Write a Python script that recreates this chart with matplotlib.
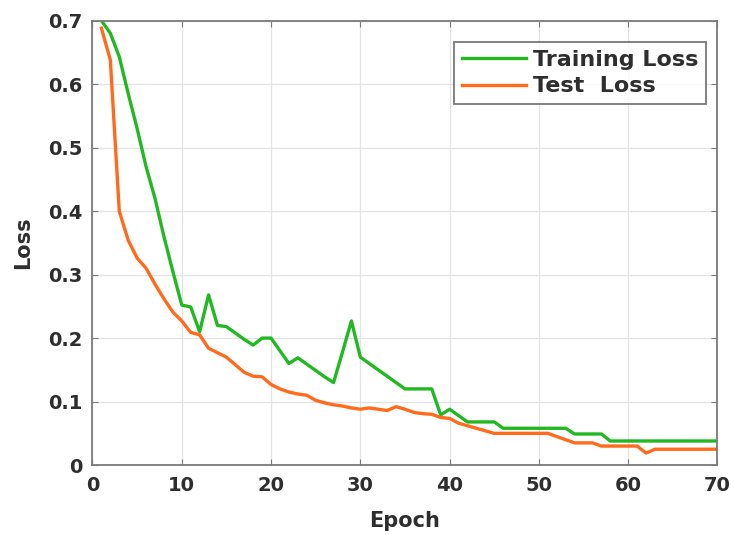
import numpy as np
import matplotlib
matplotlib.use("Agg")
import matplotlib.pyplot as plt

plt.rcParams['font.family'] = ['DejaVu Sans']
plt.rcParams['font.weight'] = 'bold'

epochs = list(range(1, 71))

train_loss = [0.700, 0.680, 0.643, 0.585, 0.530, 0.470, 0.420, 0.360, 0.305, 0.252,
              0.249, 0.210, 0.268, 0.220, 0.218, 0.208, 0.198, 0.189, 0.200, 0.200,
              0.180, 0.160, 0.169, 0.159, 0.149, 0.139, 0.130, 0.178, 0.227, 0.170,
              0.160, 0.150, 0.140, 0.130, 0.120, 0.120, 0.120, 0.120, 0.079, 0.088,
              0.078, 0.068, 0.068, 0.068, 0.068, 0.058, 0.058, 0.058, 0.058, 0.058,
              0.058, 0.058, 0.058, 0.049, 0.049, 0.049, 0.049, 0.038, 0.038, 0.038,
              0.038, 0.038, 0.038, 0.038, 0.038, 0.038, 0.038, 0.038, 0.038, 0.038]

test_loss = [0.688, 0.638, 0.400, 0.354, 0.326, 0.310, 0.285, 0.262, 0.241, 0.227,
             0.209, 0.205, 0.184, 0.177, 0.170, 0.158, 0.146, 0.140, 0.139, 0.127,
             0.120, 0.115, 0.112, 0.110, 0.102, 0.098, 0.095, 0.093, 0.090, 0.088,
             0.090, 0.088, 0.086, 0.092, 0.088, 0.083, 0.081, 0.080, 0.075, 0.0735,
             0.066, 0.062, 0.058, 0.054, 0.050, 0.050, 0.050, 0.050, 0.050, 0.050,
             0.050, 0.045, 0.040, 0.035, 0.035, 0.035, 0.030, 0.030, 0.030, 0.030,
             0.030, 0.019, 0.025, 0.025, 0.025, 0.025, 0.025, 0.025, 0.025, 0.025]

fig = plt.figure(figsize=(7.34, 5.34), dpi=100)
ax = fig.add_axes([0.126, 0.129, 0.8515, 0.8325])

ax.plot(epochs, train_loss, color="#22b822", lw=2.4, label="Training Loss")
ax.plot(epochs, test_loss, color="#ff6a1c", lw=2.4, label="Test  Loss")

ax.set_xlim(0, 70)
ax.set_ylim(0, 0.7)
ax.set_xticks(np.arange(0, 71, 10))
ax.set_yticks(np.arange(0, 0.71, 0.1))
ax.set_yticklabels(["0", "0.1", "0.2", "0.3", "0.4", "0.5", "0.6", "0.7"])
ax.grid(True, color="#e3e3e3", lw=0.9)
ax.set_axisbelow(True)
for s in ax.spines.values():
    s.set_color("#7a7a7a")
    s.set_linewidth(1.3)
ax.tick_params(direction="in", top=True, right=True, length=4, color="#7a7a7a",
               labelsize=14, labelcolor="#2e2e2e")
ax.tick_params(axis="y", pad=7)
ax.tick_params(axis="x", pad=8)
for lab in ax.get_xticklabels() + ax.get_yticklabels():
    lab.set_fontweight("bold")

ax.set_xlabel("Epoch", fontsize=15, fontweight="bold", color="#2e2e2e", labelpad=11)
ax.set_ylabel("Loss", fontsize=15, fontweight="bold", color="#2e2e2e", labelpad=11)

leg = ax.legend(loc="upper right", bbox_to_anchor=(0.9816, 0.952),
                prop={"weight": "bold", "size": 16}, frameon=True, fancybox=False,
                handlelength=2.9, borderpad=0.35, labelspacing=0.3, handletextpad=0.3,
                borderaxespad=0.0)
leg.get_frame().set_edgecolor("#555555")
leg.get_frame().set_linewidth(1.3)
for t in leg.get_texts():
    t.set_color("#2e2e2e")

plt.savefig("out.png", dpi=100)
